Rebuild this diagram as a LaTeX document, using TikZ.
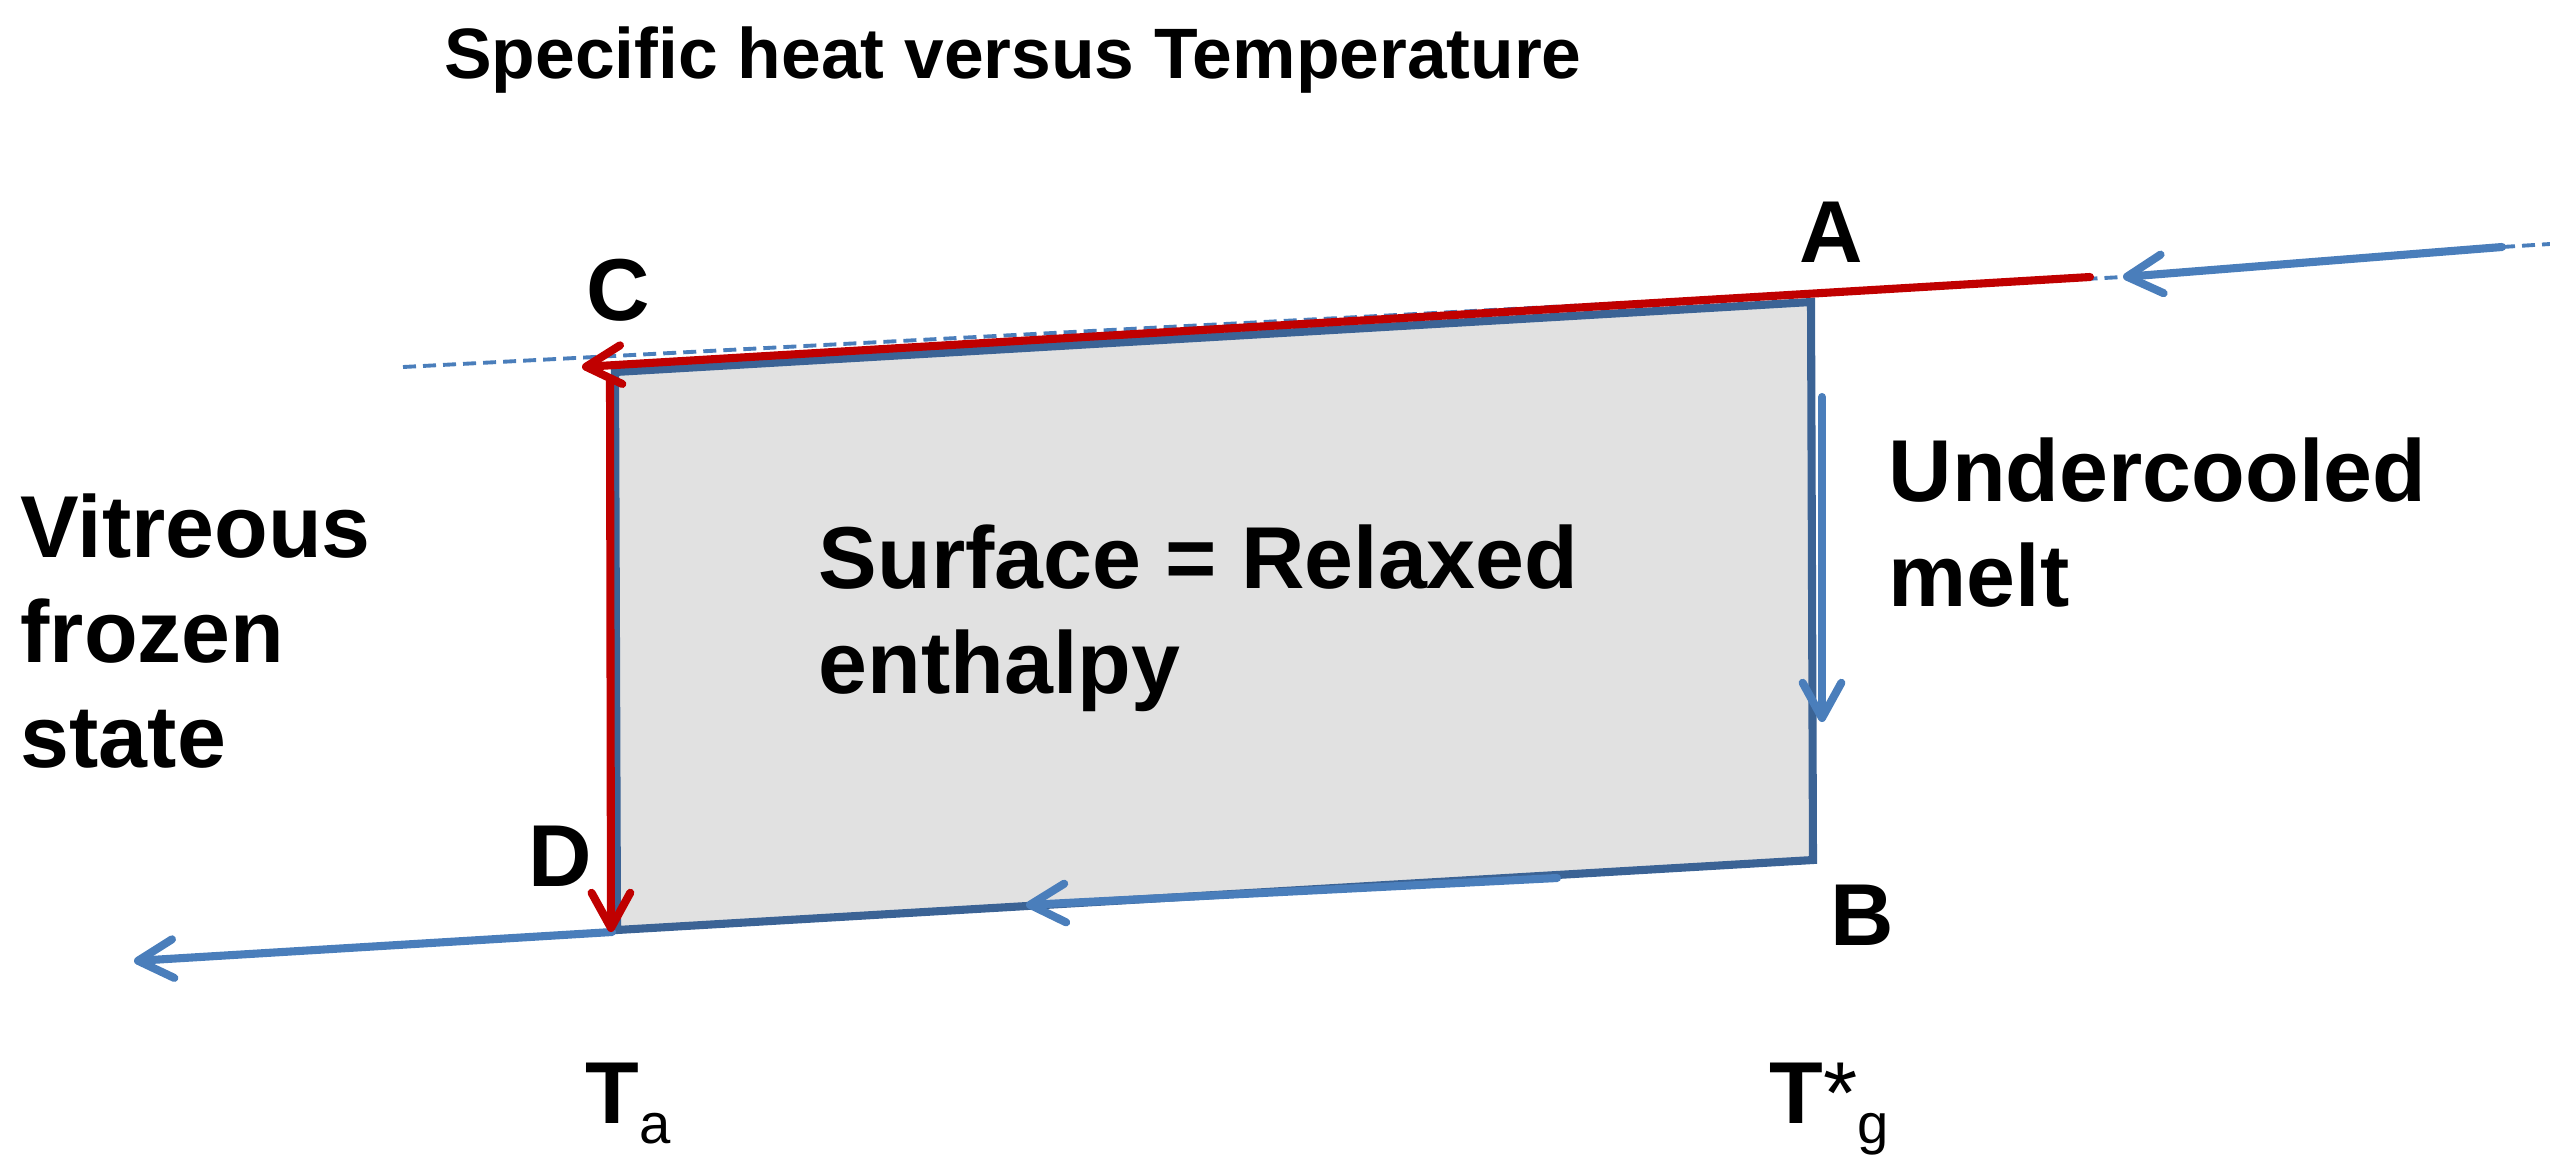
\documentclass[tikz,border=0pt]{standalone}
\usepackage{fontspec}
\setmainfont{Liberation Sans}
\usetikzlibrary{arrows.meta}
\definecolor{edgeblue}{HTML}{3B6395}
\definecolor{arrowblue}{HTML}{4A7EBB}
\definecolor{darkred}{HTML}{C00000}
\definecolor{boxgray}{HTML}{E1E1E1}
\begin{document}
\begin{tikzpicture}[x=0.01cm,y=-0.01cm,
  lbl/.style={font=\fontsize{25}{29.8}\selectfont\bfseries, inner sep=0pt},
  titlestyle/.style={font=\fontsize{20.3}{24}\selectfont\bfseries, inner sep=0pt},
  boxedge/.style={draw=edgeblue, fill=boxgray, line width=2.3pt, line join=miter},
  tipb/.style={-{Straight Barb[length=10pt,width=11pt,round]}},
  redarrow/.style={draw=darkred, line width=2.3pt, line cap=round, tipb},
  bluearrow/.style={draw=arrowblue, line width=2.3pt, line cap=round, tipb},
  dashline/.style={draw=arrowblue, line width=1.1pt, dash pattern=on 3.7pt off 2pt}
]
\useasboundingbox (0,0) rectangle (2550,1175);
% box corners
\coordinate (C) at (615,372);
\coordinate (A) at (1811,302);
\coordinate (B) at (1813,860);
\coordinate (D) at (617,930);
\draw[boxedge] (C) -- (A) -- (B) -- (D) -- cycle;
% dashed extension line
\coordinate (dL) at (403,367);
\coordinate (dR) at (2123,277);
\draw[dashline] (dL) -- (dR);
% right incoming arrow
\coordinate (inS) at (2502,247);
\coordinate (inE) at (2550,244);
\draw[dashline] (inS) -- (inE);
\draw[bluearrow] (inS) -- (dR);
% red line A -> C
\coordinate (redR) at (2090,277);
\coordinate (redL) at (582,367);
\draw[redarrow] (redR) -- (redL);
% undercooled arrow
\coordinate (u1) at (1822,397);
\coordinate (u2) at (1822,722);
\draw[bluearrow] (u1) -- (u2);
% bottom arrow B -> D
\coordinate (b1) at (1557,878);
\coordinate (b2) at (1026,905);
\draw[bluearrow] (b1) -- (b2);
% outgoing left arrow
\coordinate (o1) at (612,932);
\coordinate (o2) at (134,961);
\draw[bluearrow] (o1) -- (o2);
% red vertical C -> D
\coordinate (rv1) at (610,380);
\coordinate (rv2) at (611,932);
\draw[redarrow] (rv1) -- (rv2);
% texts
\node[titlestyle, anchor=base] (title) at (1013,78) {Specific heat versus Temperature};
\node[lbl, anchor=base] (lC) at (618,320) {C};
\node[lbl, anchor=base] (lA) at (1831,262) {A};
\node[lbl, anchor=base] (lB) at (1862,945) {B};
\node[lbl, anchor=base] (lD) at (560,886) {D};
\node[lbl, anchor=base west, align=left] (vit) at (20,767) {Vitreous\\frozen\\state};
\node[lbl, anchor=base west, align=left] (und) at (1888,606) {Undercooled\\melt};
\node[lbl, anchor=base west, align=left] (surf) at (818,693) {Surface = Relaxed\\enthalpy};
\node[lbl, anchor=base west] (Ta) at (585,1123) {T\raisebox{-5.7pt}{\fontsize{16}{16}\selectfont\mdseries a}};
\node[lbl, anchor=base west] (Tg) at (1769,1123) {T{\mdseries *}\raisebox{-5.7pt}{\fontsize{16}{16}\selectfont\mdseries g}};
\end{tikzpicture}
\end{document}
